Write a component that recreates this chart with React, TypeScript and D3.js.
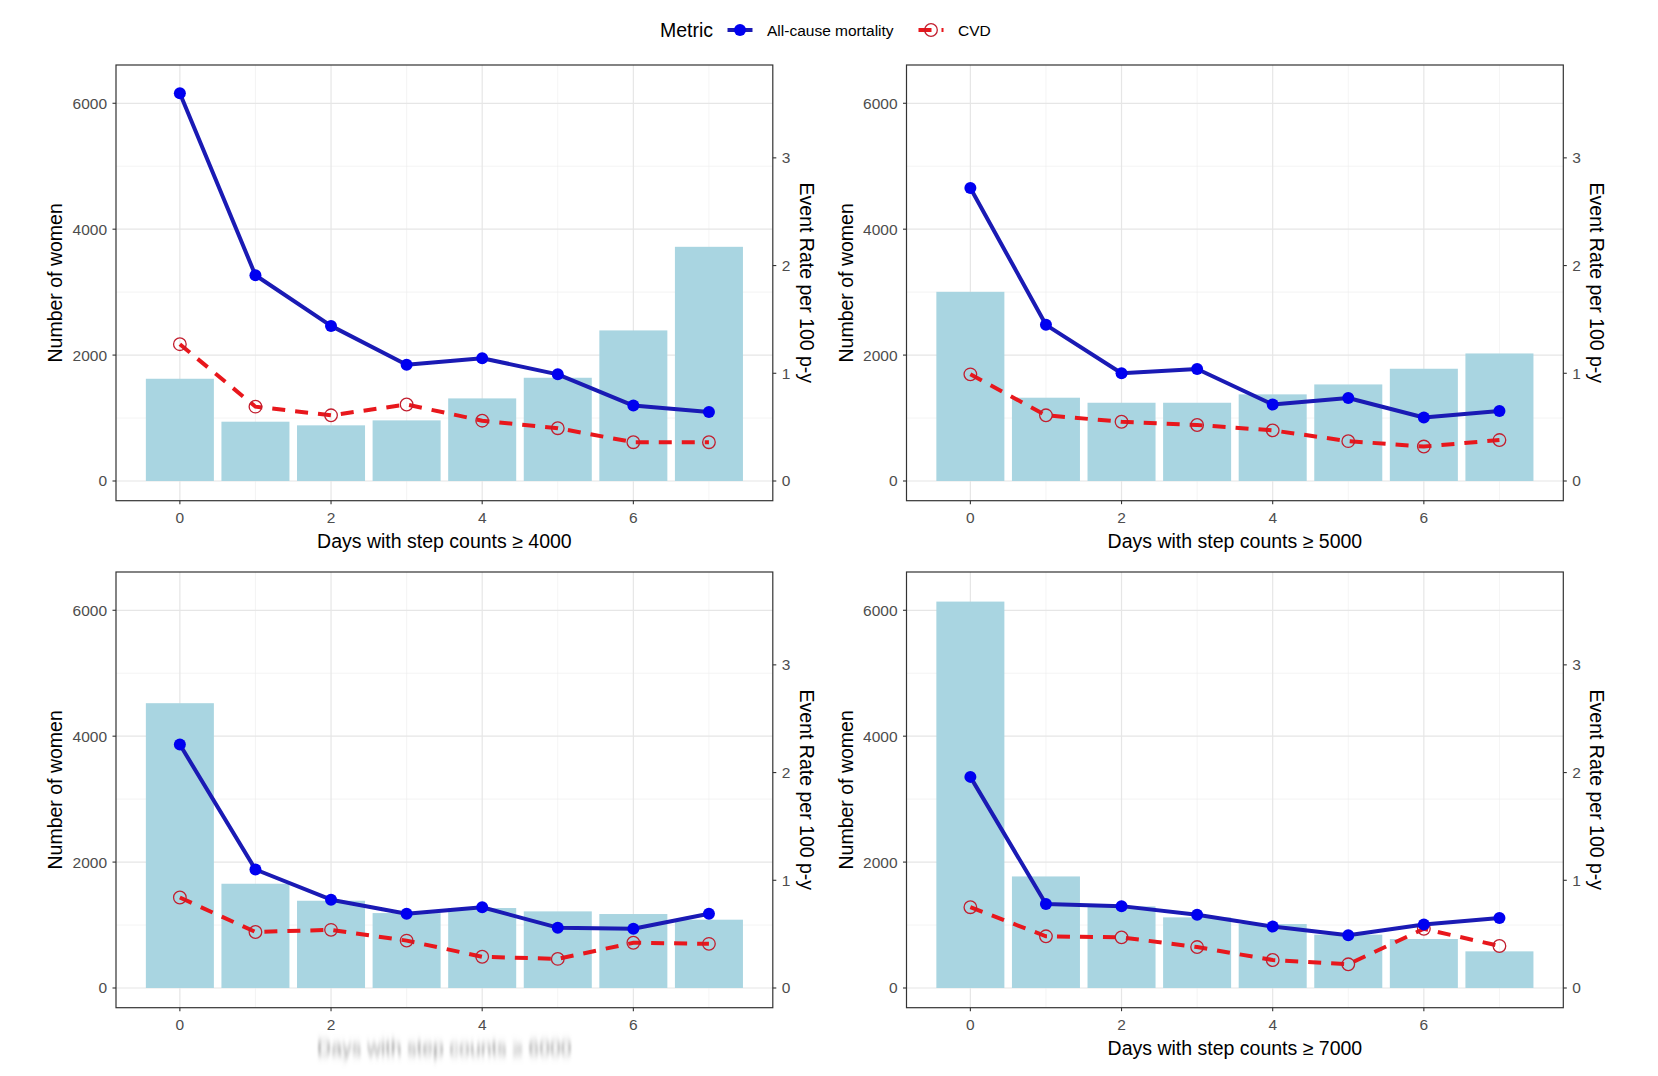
import * as d3 from "d3";

// step-count thresholds, one panel each
const thresholds = ["4000", "5000", "6000", "7000"];
const days = [0, 1, 2, 3, 4, 5, 6, 7];

// bars: number of women (left axis)
const women4000 = [1624, 942, 884, 963, 1312, 1640, 2392, 3720];
const women5000 = [3005, 1323, 1243, 1243, 1376, 1534, 1783, 2026];
const women6000 = [4524, 1656, 1386, 1190, 1270, 1217, 1175, 1085];
const women7000 = [6138, 1772, 1296, 1122, 1016, 847, 778, 582];

// lines: event rate per 100 p-y (right axis)
const allCause4000 = [3.6, 1.91, 1.44, 1.08, 1.14, 0.99, 0.7, 0.64];
const allCause5000 = [2.72, 1.45, 1.0, 1.04, 0.71, 0.77, 0.59, 0.65];
const allCause6000 = [2.26, 1.1, 0.82, 0.69, 0.75, 0.56, 0.55, 0.69];
const allCause7000 = [1.96, 0.78, 0.76, 0.68, 0.57, 0.49, 0.59, 0.65];

const cvd4000 = [1.27, 0.69, 0.61, 0.71, 0.56, 0.49, 0.36, 0.36];
const cvd5000 = [0.99, 0.61, 0.55, 0.52, 0.47, 0.37, 0.32, 0.38];
const cvd6000 = [0.84, 0.52, 0.54, 0.44, 0.29, 0.27, 0.42, 0.41];
const cvd7000 = [0.75, 0.48, 0.47, 0.38, 0.26, 0.22, 0.55, 0.39];

const xTicks = [0, 2, 4, 6];
const xMinor = [1, 3, 5, 7];
const yLeftTicks = [0, 2000, 4000, 6000];
const yMinor = [1000, 3000, 5000];
const yRightTicks = [0, 1, 2, 3];

const women = [women4000, women5000, women6000, women7000];
const allCause = [allCause4000, allCause5000, allCause6000, allCause7000];
const cvd = [cvd4000, cvd5000, cvd6000, cvd7000];

const FONT = "'Liberation Sans', Arial, Helvetica, sans-serif";
const PW = 656.8;
const PH = 435.7;
const RATE_K = 1711; // women units per 1 rate unit (sec axis)
const Y_DOM = [-313, 6608];

const BLUE_LINE = "#1a1ab4";
const BLUE_PT = "#0000f0";
const RED = "#e8171c";
const RED_PT = "#c21e2e";

function Panel(props: any) {
  const { x0, y0, idx } = props;
  const x1 = x0 + PW;
  const y1 = y0 + PH;
  const x = d3.scaleLinear().domain([-0.845, 7.845]).range([x0, x1]);
  const y = d3.scaleLinear().domain(Y_DOM).range([y1, y0]);
  const yr = d3
    .scaleLinear()
    .domain([Y_DOM[0] / RATE_K, Y_DOM[1] / RATE_K])
    .range([y1, y0]);
  const bw = x(0.45) - x(-0.45);
  const line = d3
    .line<number>()
    .x((_, i) => x(days[i]))
    .y((d) => yr(d));
  const cy = (y0 + y1) / 2;
  const blur = idx === 2;

  return (
    <g>
      {/* grid */}
      {yMinor.map((t) => (
        <line key={"ym" + t} x1={x0} x2={x1} y1={y(t)} y2={y(t)} stroke="#ececec" strokeWidth={0.6} />
      ))}
      {xMinor.map((t) => (
        <line key={"xm" + t} x1={x(t)} x2={x(t)} y1={y0} y2={y1} stroke="#ececec" strokeWidth={0.6} />
      ))}
      {yLeftTicks.map((t) => (
        <line key={"yg" + t} x1={x0} x2={x1} y1={y(t)} y2={y(t)} stroke="#e6e6e6" strokeWidth={1.2} />
      ))}
      {xTicks.map((t) => (
        <line key={"xg" + t} x1={x(t)} x2={x(t)} y1={y0} y2={y1} stroke="#e6e6e6" strokeWidth={1.2} />
      ))}

      {/* bars */}
      {women[idx].map((v, i) => (
        <rect
          key={"b" + i}
          x={x(days[i]) - bw / 2}
          y={y(v)}
          width={bw}
          height={y(0) - y(v)}
          fill="#a9d5e1"
        />
      ))}

      {/* CVD */}
      <path d={line(cvd[idx]) || ""} fill="none" stroke={RED} strokeWidth={4} strokeDasharray="13 10" />
      {cvd[idx].map((v, i) => (
        <circle key={"c" + i} cx={x(days[i])} cy={yr(v)} r={6.3} fill="none" stroke={RED_PT} strokeWidth={1.3} />
      ))}

      {/* all-cause */}
      <path d={line(allCause[idx]) || ""} fill="none" stroke={BLUE_LINE} strokeWidth={4} strokeLinejoin="round" />
      {allCause[idx].map((v, i) => (
        <circle key={"a" + i} cx={x(days[i])} cy={yr(v)} r={6} fill={BLUE_PT} />
      ))}

      {/* border */}
      <rect x={x0} y={y0} width={PW} height={PH} fill="none" stroke="#333" strokeWidth={1.2} />

      {/* left axis */}
      {yLeftTicks.map((t) => (
        <g key={"yl" + t}>
          <line x1={x0 - 3.5} x2={x0} y1={y(t)} y2={y(t)} stroke="#333" strokeWidth={1.1} />
          <text x={x0 - 9} y={y(t) + 5.5} textAnchor="end" fontSize={15.5} fill="#4d4d4d">
            {t}
          </text>
        </g>
      ))}
      {/* right axis */}
      {yRightTicks.map((t) => (
        <g key={"yr" + t}>
          <line x1={x1} x2={x1 + 3.5} y1={yr(t)} y2={yr(t)} stroke="#333" strokeWidth={1.1} />
          <text x={x1 + 9} y={yr(t) + 5.5} textAnchor="start" fontSize={15.5} fill="#4d4d4d">
            {t}
          </text>
        </g>
      ))}
      {/* bottom axis */}
      {xTicks.map((t) => (
        <g key={"xt" + t}>
          <line x1={x(t)} x2={x(t)} y1={y1} y2={y1 + 3.5} stroke="#333" strokeWidth={1.1} />
          <text x={x(t)} y={y1 + 22} textAnchor="middle" fontSize={15.5} fill="#4d4d4d">
            {t}
          </text>
        </g>
      ))}

      <text
        x={(x0 + x1) / 2}
        y={y1 + 47}
        textAnchor="middle"
        fontSize={19.5}
        fill={blur ? "#9a9a9a" : "#000"}
        filter={blur ? "url(#smear)" : undefined}
      >
        {"Days with step counts \u2265 " + thresholds[idx]}
      </text>
      <text transform={`translate(${x0 - 54},${cy}) rotate(-90)`} textAnchor="middle" fontSize={19.5} fill="#000">
        Number of women
      </text>
      <text transform={`translate(${x1 + 27},${cy}) rotate(90)`} textAnchor="middle" fontSize={19.5} fill="#000">
        Event Rate per 100 p-y
      </text>
    </g>
  );
}

function Legend() {
  const cy = 30;
  return (
    <g>
      <text x={660} y={cy + 7} fontSize={19.5} fill="#000">
        Metric
      </text>
      <line x1={727.5} x2={752.5} y1={cy} y2={cy} stroke={BLUE_LINE} strokeWidth={4} />
      <circle cx={740} cy={cy} r={6} fill={BLUE_PT} />
      <text x={767} y={cy + 5.5} fontSize={15.5} fill="#000">
        All-cause mortality
      </text>
      <line x1={918.5} x2={943.5} y1={cy} y2={cy} stroke={RED} strokeWidth={4} strokeDasharray="13 10" />
      <circle cx={931} cy={cy} r={6.3} fill="none" stroke={RED_PT} strokeWidth={1.3} />
      <text x={958} y={cy + 5.5} fontSize={15.5} fill="#000">
        CVD
      </text>
    </g>
  );
}

export default function App() {
  const cols = [116, 906.5];
  const rows = [65, 572];
  return (
    <div style={{ position: "absolute", left: 0, top: 0 }}>
      <svg width={1658} height={1076} style={{ display: "block", background: "#fff" }} fontFamily={FONT}>
        <defs>
          <filter id="smear" x="-5%" y="-80%" width="110%" height="260%">
            <feGaussianBlur stdDeviation="1.2 4" />
          </filter>
        </defs>
        <rect width={1658} height={1076} fill="#fff" />
        <Legend />
        {thresholds.map((_, i) => (
          <Panel key={i} idx={i} x0={cols[i % 2]} y0={rows[Math.floor(i / 2)]} />
        ))}
      </svg>
    </div>
  );
}
